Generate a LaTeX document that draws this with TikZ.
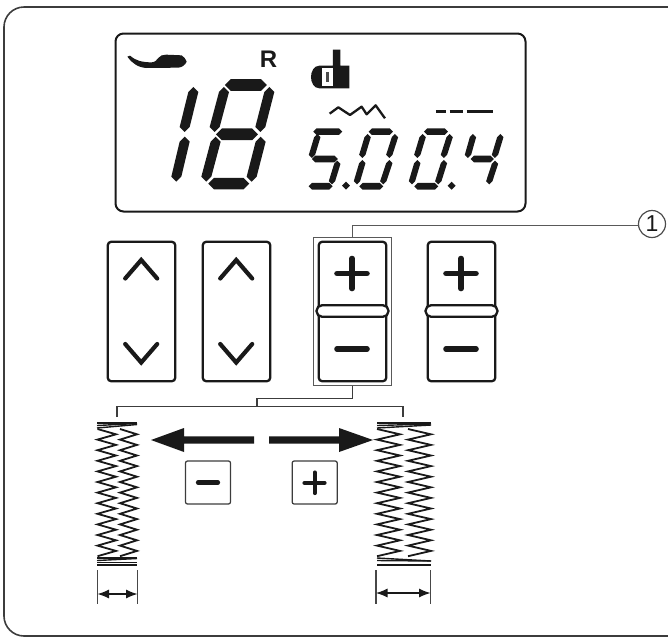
\documentclass[tikz,border=0pt]{standalone}
\usepackage{fontspec}
\setmainfont{Liberation Sans}
\usetikzlibrary{arrows.meta}
\definecolor{ink}{gray}{0.1}
\newcommand{\vseg}[5]{\fill[ink] (#1,#2) -- ({#1+#5/2},{#2+#5/2}) -- ({#3+#5/2},{#4-#5/2}) -- (#3,#4) -- ({#3-#5/2},{#4-#5/2}) -- ({#1-#5/2},{#2+#5/2}) -- cycle;}
\newcommand{\hseg}[4]{\fill[ink] (#1,#3) -- ({#1+#4/2},{#3-#4/2}) -- ({#2-#4/2},{#3-#4/2}) -- (#2,#3) -- ({#2-#4/2},{#3+#4/2}) -- ({#1+#4/2},{#3+#4/2}) -- cycle;}
\newcommand{\zigz}[5]{% x1 x2 y1 period n
  \draw[zz] (#1,#3) \foreach \k in {1,...,#5} { -- (#2,{#3+(\k-0.5)*#4}) -- (#1,{#3+\k*#4}) };}
\newcommand{\updown}[1]{%
  \draw[glyph] ({#1-16},278.5) -- (#1,260) -- ({#1+16},278.5);
  \draw[glyph] ({#1-16},344) -- (#1,362.5) -- ({#1+16},344);}
\newcommand{\plusminus}[1]{%
  \draw[glyph,line width=5.6pt] ({#1-15},273.5) -- ({#1+15},273.5);
  \draw[glyph,line width=5.6pt] (#1,258.5) -- (#1,288.5);
  \draw[glyph,line width=5.6pt] ({#1-15},349) -- ({#1+15},349);}
\tikzset{
  btn/.style={draw=ink,line width=2.3pt,rounded corners=3.5pt,minimum width=67.5pt,minimum height=139.5pt,inner sep=0pt,outer sep=0pt,fill=white},
  pill/.style={draw=ink,line width=2.3pt,rounded corners=5.5pt,minimum width=72pt,minimum height=11.5pt,inner sep=0pt,outer sep=0pt,fill=white},
  glyph/.style={draw=ink,line width=4.2pt,line cap=round,line join=miter},
  conn/.style={draw=ink!85,line width=1.25pt},
  lead/.style={draw=black!65,line width=1.3pt},
  smallbox/.style={draw=ink!85,line width=1.25pt,rounded corners=2pt,minimum width=45pt,minimum height=43pt,inner sep=0pt,outer sep=0pt},
  zz/.style={draw=ink,line width=1.8pt,line join=miter},
  tack/.style={draw=ink,line width=1.4pt},
  dimline/.style={draw=ink!80,line width=1.1pt},
  dimarrow/.style={draw=ink,line width=1.1pt,{Latex[length=11.5pt,width=9pt]}-{Latex[length=11.5pt,width=9pt]}},
}
\begin{document}
\begin{tikzpicture}[x=1pt,y=-1pt]
\useasboundingbox (0,0) rectangle (668,638);
% outer frame
\coordinate (ftr) at (668,7);
\coordinate (fbr) at (668,636);
\draw[ink!85,line width=1.6pt] (ftr) -- (24,7) .. controls (13,7) and (4,16) .. (4,27) -- (4,616) .. controls (4,627) and (13,636) .. (24,636) -- (fbr);
% LCD
\node[draw=ink,line width=2pt,rounded corners=8pt,minimum width=410pt,minimum height=178pt,inner sep=0pt,outer sep=0pt] (lcd) at (320.5,122.5) {};
\node[font={\fontsize{24}{24}\selectfont\bfseries},text=ink,inner sep=0pt] (rlab) at (268.5,58.8) {R};
\begin{scope}[shift={(110,25)},x=0.3333pt,y=-0.3333pt]
  % presser foot icon
  \fill[ink] (52,95) -- (60,92) .. controls (75,106) and (95,112) .. (125,112) .. controls (136,112) and (140,104) .. (146,98) .. controls (150,92) and (158,89) .. (168,89) -- (215,91) .. controls (222,96) and (228,102) .. (230,110) .. controls (226,120) and (216,127) .. (205,128) -- (110,129) .. controls (85,128) and (65,114) .. cycle;
  % needle icon
  \fill[ink] (669,74) -- (691,74) -- (691,122) -- (718,122) -- (718,190) -- (628,190) .. controls (612,190) and (603,172) .. (603,156) .. controls (603,140) and (612,122) .. (628,122) -- (669,122) -- cycle;
  \fill[white] (636,129) rectangle (670,183);
  \fill[black!70] (648,140) rectangle (657,172);
  % stitch symbols
  \draw[ink,line width=2.3pt,line join=round] (659,266) -- (685,247) -- (720,270) -- (755,245) -- (770,268) -- (797,241) -- (825,280);
  \draw[ink,line width=3.2pt] (978,259) -- (1008,259) (1019,259) -- (1058,259) (1070,259) -- (1148,259);
  % digit 1
  \vseg{250}{186}{224}{321}{30}
  \vseg{224}{335}{199}{470}{30}
  % digit 8
  \hseg{345}{471}{180}{35}
  \vseg{342}{186}{314}{321}{30}
  \vseg{478}{186}{451}{321}{30}
  \hseg{318}{444}{328}{35}
  \vseg{317}{335}{289}{470}{30}
  \vseg{452}{335}{425}{470}{30}
  \hseg{295}{418}{476}{35}
  % digit 5
  \hseg{610}{697}{320}{20}
  \vseg{622}{327}{606}{399}{19}
  \hseg{606}{684}{402}{20}
  \vseg{682}{407}{666}{478}{19}
  \hseg{596}{668}{484}{20}
  \fill[ink] (708,470) -- (720,482) -- (708,494) -- (696,482) -- cycle;
  % digit 0
  \hseg{776}{849}{320}{20}
  \vseg{773}{327}{757}{399}{19}
  \vseg{855}{327}{838}{399}{19}
  \vseg{757}{405}{741}{478}{19}
  \vseg{838}{405}{820}{478}{19}
  \hseg{748}{820}{484}{20}
  % digit 0
  \hseg{942}{1014}{320}{20}
  \vseg{938}{327}{922}{399}{19}
  \vseg{1019}{327}{1002}{399}{19}
  \vseg{922}{405}{906}{478}{19}
  \vseg{1002}{405}{985}{478}{19}
  \hseg{913}{985}{484}{20}
  \fill[ink] (1025,470) -- (1037,482) -- (1025,494) -- (1013,482) -- cycle;
  % digit 4
  \vseg{1089}{327}{1074}{399}{19}
  \vseg{1171}{327}{1155}{399}{19}
  \hseg{1082}{1152}{402}{20}
  \vseg{1155}{407}{1138}{478}{19}
\end{scope}
% buttons
\node[btn] (b1) at (141.5,311.5) {};
\node[btn] (b2) at (236.5,311.5) {};
\node[draw=black!65,line width=1.3pt,minimum width=78pt,minimum height=148.5pt,inner sep=0pt,outer sep=0pt] (sel) at (352.5,311.5) {};
\node[btn] (b3) at (352.5,311.5) {};
\node[btn] (b4) at (461.5,311.5) {};
\node[pill] (p3) at (352.5,311) {};
\node[pill] (p4) at (461.5,311) {};
\updown{141.2}
\updown{236.2}
\plusminus{352}
\plusminus{461}
% callout
\node[draw=black!70,line width=1.2pt,circle,minimum size=27pt,inner sep=0pt,outer sep=0pt,font={\fontsize{23}{23}\selectfont},text=ink] (c1) at (652,224) {1};
\coordinate (ltop) at (352.5,225.5);
\draw[lead] (sel.north) -- (ltop) -- (c1.west |- ltop);
% bracket
\coordinate (j1) at (257,398.5);
\coordinate (j2) at (257,406.5);
\coordinate (zl) at (117,417);
\coordinate (zr) at (403,417);
\draw[conn] (sel.south) |- (j1) -- (j2);
\draw[conn] (zl) |- (j2) -| (zr);
% big arrows
\fill[ink] (151,440) -- (184,428) -- (184,436.3) -- (254,436.3) -- (254,443.7) -- (184,443.7) -- (184,452) -- cycle;
\fill[ink] (373,440) -- (339,428) -- (339,436.3) -- (269,436.3) -- (269,443.7) -- (339,443.7) -- (339,452) -- cycle;
% small keys
\node[smallbox] (km) at (208,482.5) {};
\node[smallbox] (kp) at (314.7,482.5) {};
\draw[glyph] (198,482.5) -- (218,482.5);
\draw[glyph] (304.5,482.8) -- (324.5,482.8) (314.7,472.5) -- (314.7,493);
% left stitches
\zigz{97.5}{116}{429}{10.6}{12}
\zigz{120}{137}{429}{10.6}{12}
\draw[tack] (97,423) -- (137,423);
\draw[tack] (97,425.5) -- (137,423.5);
\draw[tack] (97,428) -- (137,424.5);
\draw[tack] (97,558) -- (137,558);
\draw[tack] (97,560.5) -- (137,558.5);
\draw[tack] (97,562.5) -- (137,562.5);
\draw[tack] (97,564.8) -- (137,564.8);
% right stitches
\zigz{377}{400}{429}{10.6}{12}
\zigz{408}{431}{429}{10.6}{12}
\draw[tack,line width=1.7pt] (377,423) -- (431,423);
\draw[tack] (377,425.5) -- (431,424);
\draw[tack] (377,428) -- (431,425);
\draw[tack] (377,558) -- (431,561);
\draw[tack] (377,560.5) -- (431,561);
\draw[tack,line width=1.8pt] (377,565) -- (431,565);
% dimensions
\coordinate (dl1) at (97.5,570); \coordinate (dl2) at (97.5,604);
\coordinate (dl3) at (137.5,570); \coordinate (dl4) at (137.5,604);
\coordinate (dr1) at (376,570); \coordinate (dr2) at (376,604);
\coordinate (dr3) at (430.5,570); \coordinate (dr4) at (430.5,604);
\draw[dimline] (dl1) -- (dl2) (dl3) -- (dl4) (dr1) -- (dr2) (dr3) -- (dr4);
\coordinate (al) at (97.5,594); \coordinate (ar) at (137.5,594);
\coordinate (bl) at (376,593); \coordinate (br) at (430.5,593);
\draw[dimarrow] (al) -- (ar);
\draw[dimarrow] (bl) -- (br);
\end{tikzpicture}
\end{document}
